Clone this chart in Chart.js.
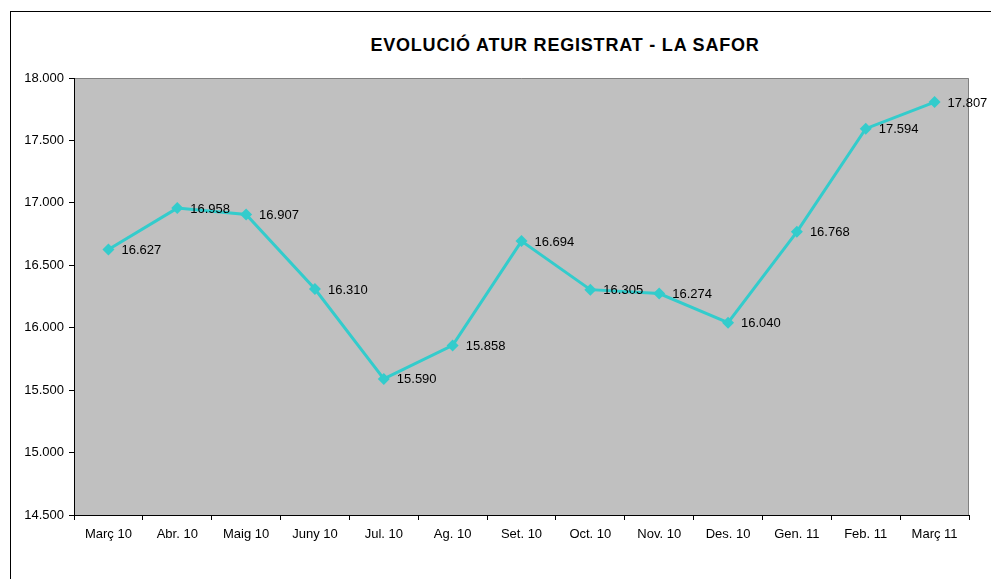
<!DOCTYPE html>
<html>
<head>
<meta charset="utf-8">
<script src="https://cdn.jsdelivr.net/npm/chart.js@4"></script>
<style>
  html, body { margin:0; padding:0; background:#fff; overflow:hidden; }
  #wrap { position:relative; width:991px; height:579px; }
  #frame { position:absolute; left:10px; top:11px; width:1200px; height:800px; border:1px solid #000; }
  #title { position:absolute; left:0; top:35px; width:1130px; text-align:center;
           font:bold 18px "Liberation Sans", Arial, sans-serif; letter-spacing:0.8px; color:#000; }
  canvas { position:absolute; left:0; top:0; }
</style>
</head>
<body>
<div id="wrap">
  <div id="frame"></div>
  <div id="title">EVOLUCIÓ ATUR REGISTRAT - LA SAFOR</div>
  <canvas id="chart" width="991" height="579"></canvas>
</div>
<script>
// -------- dades --------
const months = ["Març 10","Abr. 10","Maig 10","Juny 10","Jul. 10","Ag. 10","Set. 10",
                "Oct. 10","Nov. 10","Des. 10","Gen. 11","Feb. 11","Març 11"];
const aturValues = [16627,16958,16907,16310,15590,15858,16694,16305,16274,16040,16768,17594,17807];
const yMin = 14500, yMax = 18000, yStep = 500;

const FONT = '"Liberation Sans", Arial, sans-serif';

function fmt(v){
    return v.toString().replace(/\B(?=(\d{3})+(?!\d))/g, '.');
}

// fons gris de l'àrea del gràfic
const plotBg = {
    id:'plotBg',
    beforeDraw(chart){
        const {ctx, chartArea:a} = chart;
        ctx.save();
        ctx.fillStyle = '#C0C0C0';
        ctx.fillRect(a.left, a.top, a.right-a.left, a.bottom-a.top);
        ctx.strokeStyle = '#808080';
        ctx.lineWidth = 1;
        ctx.beginPath();
        ctx.moveTo(a.left, a.top+0.5);
        ctx.lineTo(a.right-0.5, a.top+0.5);
        ctx.lineTo(a.right-0.5, a.bottom);
        ctx.stroke();
        ctx.restore();
    }
};

// etiquetes de valor a la dreta de cada punt
const valueLabels = {
    id:'valueLabels',
    afterDatasetsDraw(chart){
        const {ctx} = chart;
        const meta = chart.getDatasetMeta(0);
        ctx.save();
        ctx.font = '13px ' + FONT;
        ctx.fillStyle = '#000';
        ctx.textAlign = 'left';
        ctx.textBaseline = 'middle';
        meta.data.forEach((pt,i)=>{
            ctx.fillText(fmt(aturValues[i]), pt.x+13, pt.y+1);
        });
        ctx.restore();
    }
};

new Chart(document.getElementById('chart'),{
    type:'line',
    data:{
        labels:months,
        datasets:[{
            data:aturValues,
            borderColor:'#33CCCC',
            backgroundColor:'#33CCCC',
            borderWidth:3,
            pointStyle:'rectRot',
            pointRadius:6,
            pointBorderWidth:0,
            tension:0
        }]
    },
    options:{
        responsive:false,
        animation:false,
        layout:{padding:{top:78, right:22, left:0, bottom:0}},
        plugins:{legend:{display:false}, tooltip:{enabled:false}, title:{display:false}},
        scales:{
            x:{
                offset:true,
                grid:{offset:true, drawOnChartArea:false, drawTicks:true, tickLength:5, color:'#000'},
                border:{color:'#000', width:1},
                ticks:{color:'#000', font:{family:FONT, size:13}, padding:7, maxRotation:0, autoSkip:false},
                afterFit(scale){ scale.height = 64; }
            },
            y:{
                min:yMin, max:yMax,
                grid:{drawOnChartArea:false, tickLength:5, color:'#000'},
                border:{color:'#000', width:1},
                ticks:{stepSize:yStep, color:'#000', font:{family:FONT, size:13}, padding:5,
                       callback:v=>fmt(v)},
                afterFit(scale){ scale.width = 74; }
            }
        }
    },
    plugins:[plotBg, valueLabels]
});
</script>
</body>
</html>
